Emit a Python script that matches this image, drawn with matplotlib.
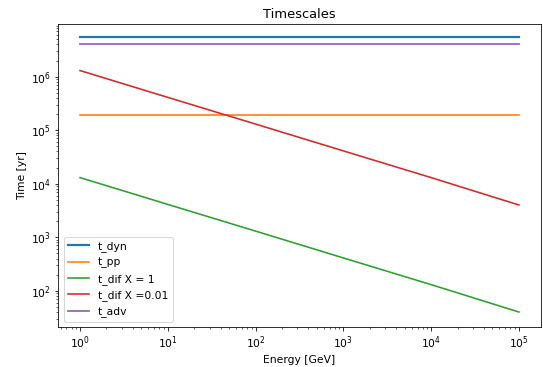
import matplotlib
matplotlib.use("Agg")
import matplotlib.pyplot as plt

# energies read at each decade [GeV]
energy = [1, 10, 100, 1e3, 1e4, 1e5]

t_dyn = [5.6e6] * len(energy)
t_pp = [1.95e5] * len(energy)
t_dif_1 = [1.3e4, 4.1e3, 1.3e3, 410, 130, 40]
t_dif_001 = [1.3e6, 4.1e5, 1.3e5, 4.1e4, 1.3e4, 4.0e3]
t_adv = [4.0e6] * len(energy)

plt.rcParams["font.size"] = 10.8

fig, ax = plt.subplots(figsize=(543 / 72, 367 / 72), dpi=72)
fig.subplots_adjust(left=0.107, right=0.996, top=0.935, bottom=0.109)

ax.plot(energy, t_dyn, color="#1f77b4", linewidth=2.2, label="t_dyn")
ax.plot(energy, t_pp, color="#ff7f0e", linewidth=1.6, label="t_pp")
ax.plot(energy, t_dif_1, color="#2ca02c", linewidth=1.6, label="t_dif X = 1")
ax.plot(energy, t_dif_001, color="#d62728", linewidth=1.6, label="t_dif X =0.01")
ax.plot(energy, t_adv, color="#9467bd", linewidth=1.8, label="t_adv")

ax.set_xscale("log")
ax.set_yscale("log")
ax.set_ylim(21, 9.7e6)
ax.set_title("Timescales")
ax.set_xlabel("Energy [GeV]")
ax.set_ylabel("Time [yr]")
ax.legend(loc="lower left")

fig.savefig("out.png", dpi=72)
